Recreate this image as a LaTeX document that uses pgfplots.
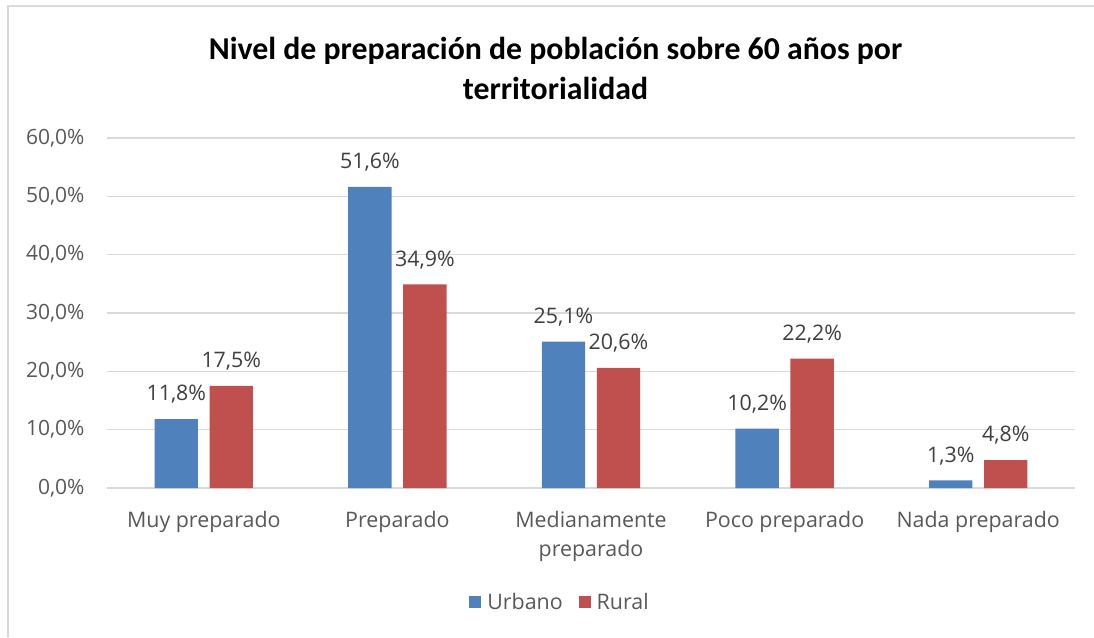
\documentclass[border=0pt]{standalone}
\usepackage{pgfplots}
\pgfplotsset{compat=1.18}
\usepackage{fontspec}
\setmainfont{Open Sans}
\newfontfamily\titlefont{Carlito}
\definecolor{urb}{HTML}{4F81BD}
\definecolor{rur}{HTML}{C0504D}
\definecolor{gridgray}{HTML}{D9D9D9}
\definecolor{bordergray}{HTML}{D9D9D9}
\definecolor{ticktext}{HTML}{595959}
\definecolor{labeltext}{HTML}{404040}
\begin{document}
\begin{tikzpicture}[x=1pt,y=1pt]
\useasboundingbox (0,0) rectangle (1094,637);
\fill[white] (0,0) rectangle (1094,637);
\draw[color=bordergray, line width=1.5pt] (8,0) -- (8,631) -- (1094,631);
\node[font=\titlefont\bfseries\fontsize{31.8}{40}\selectfont, align=center, text=black] at (555.5,569) {Nivel de preparación de población sobre 60 años por\\territorialidad};
\begin{axis}[
  at={(107pt,149pt)}, anchor=south west,
  scale only axis, width=968pt, height=350pt,
  xmin=-0.5, xmax=4.5, ymin=0, ymax=60,
  ybar, bar width=0.224,
  axis line style={draw=none},
  ymajorgrids, grid style={color=gridgray, line width=1.3pt},
  major tick length=0pt,
  /pgf/number format/assume math mode=true,
  xtick={0,1,2,3,4},
  xticklabels={Muy preparado, Preparado, Medianamente\\preparado, Poco preparado, Nada preparado},
  xticklabel style={align=center, font=\fontsize{21.4}{29}\selectfont, text=ticktext, yshift=-20pt},
  ytick={0,10,20,30,40,50,60},
  yticklabels={{0,0\%},{10,0\%},{20,0\%},{30,0\%},{40,0\%},{50,0\%},{60,0\%}},
  yticklabel style={font=\fontsize{21}{24}\selectfont, text=ticktext, xshift=-19pt},
  point meta=y,
  nodes near coords={\pgfmathprintnumber[use comma,fixed,precision=1,fixed zerofill,assume math mode=true]{\pgfplotspointmeta}\%},
  nodes near coords style={font=\fontsize{21.4}{24}\selectfont, text=labeltext, anchor=south, yshift=12pt},
  legend style={at={(0.468,-0.326)}, anchor=center, draw=none, fill=none,
    font=\fontsize{21.4}{24}\selectfont, text=ticktext, legend columns=2,
    /tikz/every even column/.append style={column sep=14pt}},
  legend image code/.code={\fill (0pt,-6pt) rectangle (12pt,6pt); \path (16pt,0pt);},
]
\addplot[ybar, bar width=0.224, bar shift=-0.142, fill=urb, draw=none] coordinates {(0,11.8) (1,51.6) (2,25.1) (3,10.2) (4,1.3)};
\addlegendentry{Urbano}
\addplot[ybar, bar width=0.224, bar shift=0.142, fill=rur, draw=none] coordinates {(0,17.5) (1,34.9) (2,20.6) (3,22.2) (4,4.8)};
\addlegendentry{Rural}
\end{axis}
\end{tikzpicture}
\end{document}
